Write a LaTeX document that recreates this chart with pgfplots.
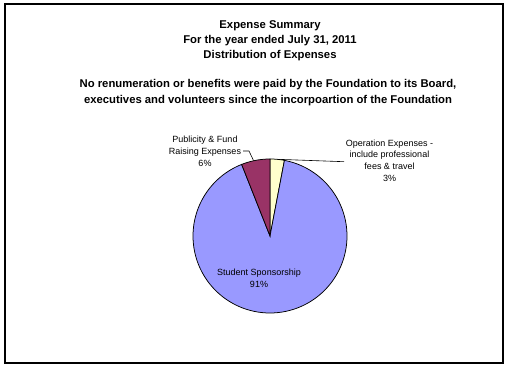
\documentclass[border=0pt]{standalone}
\usepackage{fontspec}
\setmainfont{Liberation Sans}
\usepackage{pgfplots}
\pgfplotsset{compat=1.18}
\definecolor{pieblue}{HTML}{9999FF}
\definecolor{piemaroon}{HTML}{993366}
\definecolor{pieyellow}{HTML}{FFFFCC}
% slice values (percent), in Excel's plotting order (clockwise from 12 o'clock)
\def\vOper{3}
\def\vStud{91}
\def\vPubl{6}
\def\cx{270}
\def\cy{236}
\def\rr{77}
\pgfmathsetmacro{\aA}{90}
\pgfmathsetmacro{\aB}{\aA-3.6*\vOper}
\pgfmathsetmacro{\aC}{\aB-3.6*\vStud}
\pgfmathsetmacro{\aD}{\aC-3.6*\vPubl}
\begin{document}
\begin{tikzpicture}
\begin{axis}[width=509bp,height=369bp,scale only axis,
  xmin=0,xmax=509,ymin=0,ymax=369,y dir=reverse,
  hide axis,clip=false]
\path (axis cs:0,0) rectangle (axis cs:509,369);
\draw[line width=2bp] (axis cs:5,4) rectangle (axis cs:503,363);
% pie slices
\addplot[draw=black,line width=0.75bp,fill=pieyellow,domain=\aB:\aA,samples=12]
  ({\cx+\rr*cos(x)},{\cy-\rr*sin(x)}) -- (axis cs:\cx,\cy) -- cycle;
\addplot[draw=black,line width=0.75bp,fill=pieblue,domain=\aC:\aB,samples=180]
  ({\cx+\rr*cos(x)},{\cy-\rr*sin(x)}) -- (axis cs:\cx,\cy) -- cycle;
\addplot[draw=black,line width=0.75bp,fill=piemaroon,domain=\aD:\aC,samples=15]
  ({\cx+\rr*cos(x)},{\cy-\rr*sin(x)}) -- (axis cs:\cx,\cy) -- cycle;
% titles
\begin{scope}[every node/.style={font=\fontsize{11.3bp}{13bp}\selectfont\bfseries,anchor=base,inner sep=0pt}]
\node at (axis cs:270,28.5) {Expense Summary};
\node at (axis cs:270,43.5) {For the year ended July 31, 2011};
\node at (axis cs:270,58.3) {Distribution of Expenses};
\node at (axis cs:268,87.5) {No renumeration or benefits were paid by the Foundation to its Board,};
\node at (axis cs:268,103) {executives and volunteers since the incorpoartion of the Foundation};
\end{scope}
% data labels
\begin{scope}[every node/.style={font=\fontsize{9bp}{11bp}\selectfont,anchor=base,inner sep=0pt}]
\node at (axis cs:205,142.5) {Publicity \& Fund};
\node at (axis cs:205,154.7) {Raising Expenses};
\node at (axis cs:205,166) {6\%};
\node at (axis cs:389.5,146.7) {Operation Expenses -};
\node at (axis cs:389.5,157.7) {include professional};
\node at (axis cs:389.5,169.3) {fees \& travel};
\node at (axis cs:389.5,181.7) {3\%};
\node at (axis cs:259,275.7) {Student Sponsorship};
\node at (axis cs:259,287.5) {91\%};
\end{scope}
% leader lines
\draw[line width=0.6bp] (axis cs:243,151) -- (axis cs:249,151) -- (axis cs:253.5,160.5);
\draw[line width=0.6bp] (axis cs:277.5,159.3) -- (axis cs:344,161.7);
\end{axis}
\end{tikzpicture}
\end{document}
